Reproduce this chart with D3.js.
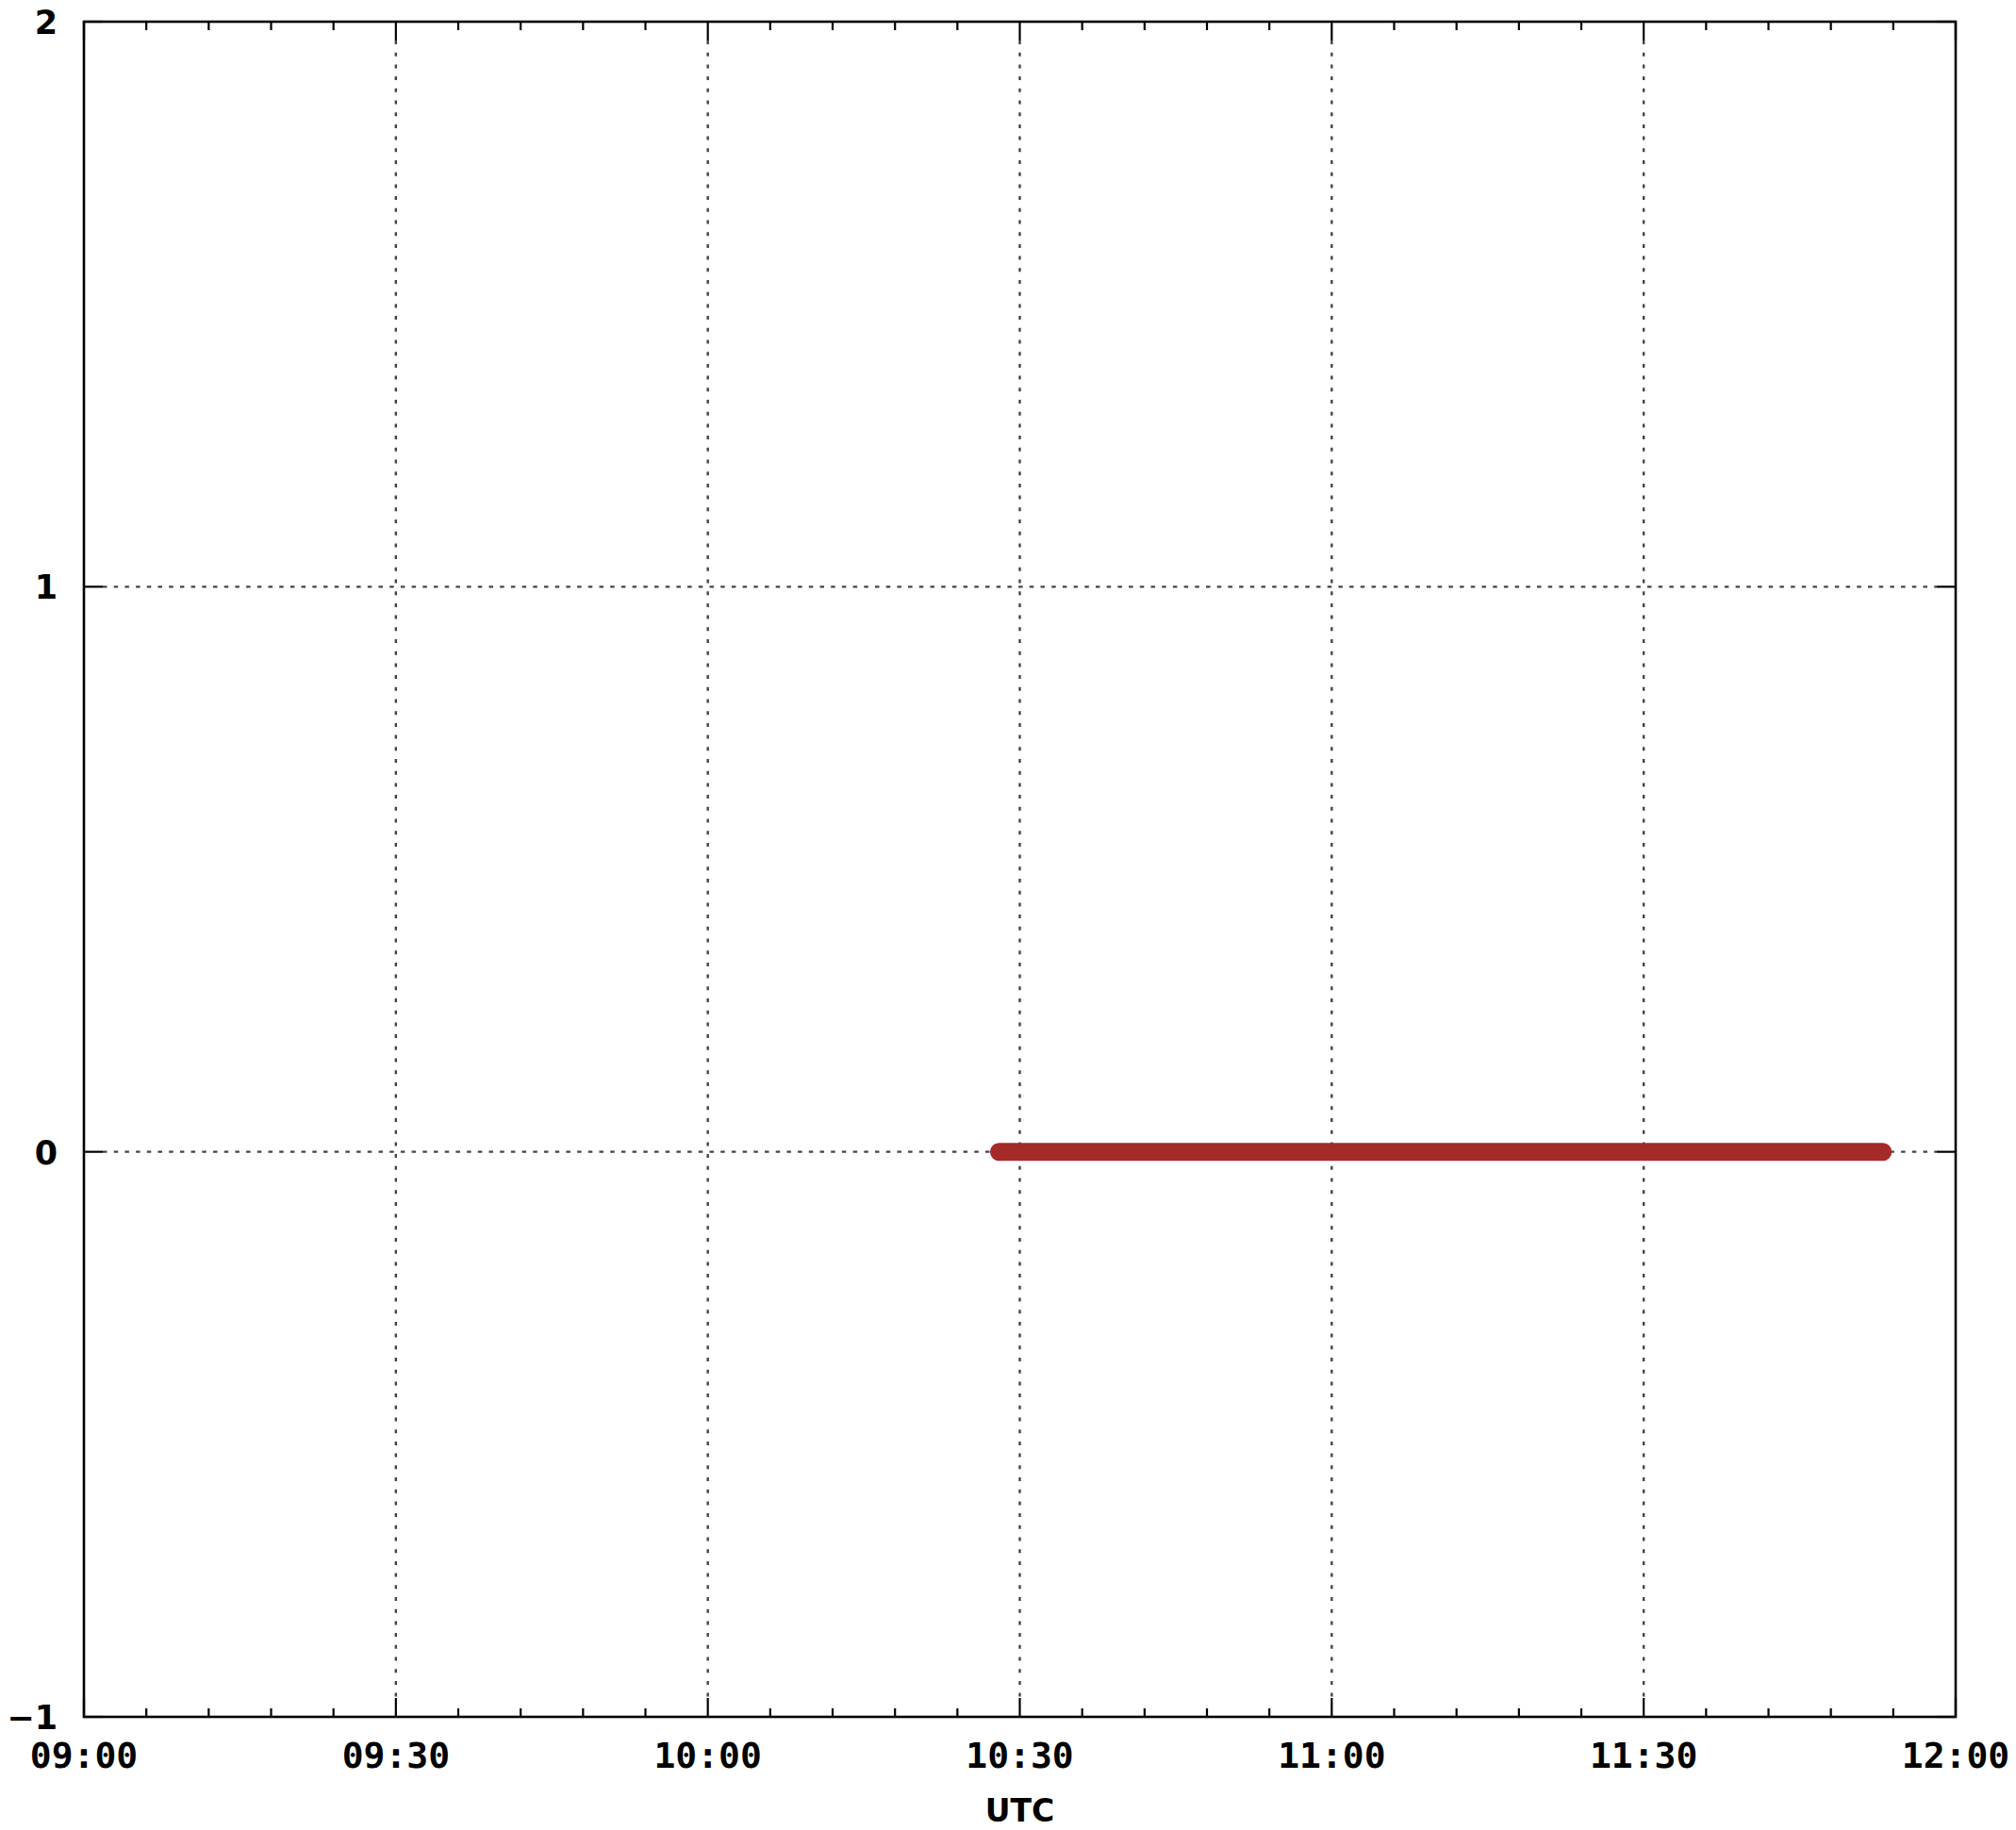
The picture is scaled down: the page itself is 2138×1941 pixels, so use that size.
<!DOCTYPE html>
<html>
<head>
<meta charset="utf-8">
<script src="https://cdn.jsdelivr.net/npm/d3@7"></script>
<style>
  html, body { margin: 0; padding: 0; background: #fff; }
  svg { display: block; }
</style>
</head>
<body>
<svg id="chart" width="2138" height="1941"></svg>
<script>
// ---- data ----
const xTickLabels = ["09:00", "09:30", "10:00", "10:30", "11:00", "11:30", "12:00"];
const yTickValues = [-1, 0, 1, 2];
const seriesTimes = ["10:28", "11:53"];
const seriesValues = [0, 0];
const xAxisTitle = "UTC";

(function () {
// ---- layout ----
const W = 2138, H = 1941;
const mLeft = 89, mRight = 2074, mTop = 23, mBottom = 1821;
const parse = d3.timeParse("%H:%M");

const svg = d3.select("#chart");
svg.append("rect").attr("width", W).attr("height", H).attr("fill", "#fff");

const x = d3.scaleTime()
  .domain([parse(xTickLabels[0]), parse(xTickLabels[xTickLabels.length - 1])])
  .range([mLeft, mRight]);
const y = d3.scaleLinear().domain([-1, 2]).range([mBottom, mTop]);

const majorTicks = xTickLabels.map(parse);
const minorTicks = d3.timeMinute.every(6).range(x.domain()[0], x.domain()[1])
  .filter(t => t.getMinutes() % 30 !== 0);

const gridColor = "#444";
// vertical grid
svg.append("g").selectAll("line")
  .data(majorTicks.slice(1, -1))
  .join("line")
  .attr("x1", d => x(d)).attr("x2", d => x(d))
  .attr("y1", mTop + 20).attr("y2", mBottom - 20)
  .attr("stroke", gridColor).attr("stroke-width", 2.4)
  .attr("stroke-dasharray", "4 8.7");
// horizontal grid
svg.append("g").selectAll("line")
  .data(yTickValues.slice(1, -1))
  .join("line")
  .attr("x1", mLeft + 20).attr("x2", mRight - 20)
  .attr("y1", d => y(d)).attr("y2", d => y(d))
  .attr("stroke", gridColor).attr("stroke-width", 2.4)
  .attr("stroke-dasharray", "4.5 7.2");

// series
const pts = seriesTimes.map((t, i) => ({ t: parse(t), v: seriesValues[i] }));
svg.append("path")
  .datum(pts)
  .attr("d", d3.line().x(d => x(d.t)).y(d => y(d.v)))
  .attr("fill", "none")
  .attr("stroke", "#a52a2a")
  .attr("stroke-width", 19)
  .attr("stroke-linecap", "round");

// ticks (inward, both sides)
const tickG = svg.append("g").attr("stroke", "#000").attr("stroke-width", 2.2);
majorTicks.forEach(t => {
  tickG.append("line").attr("x1", x(t)).attr("x2", x(t)).attr("y1", mBottom).attr("y2", mBottom - 20);
  tickG.append("line").attr("x1", x(t)).attr("x2", x(t)).attr("y1", mTop).attr("y2", mTop + 20);
});
minorTicks.forEach(t => {
  tickG.append("line").attr("x1", x(t)).attr("x2", x(t)).attr("y1", mBottom).attr("y2", mBottom - 9);
  tickG.append("line").attr("x1", x(t)).attr("x2", x(t)).attr("y1", mTop).attr("y2", mTop + 9);
});
yTickValues.forEach(v => {
  tickG.append("line").attr("x1", mLeft).attr("x2", mLeft + 20).attr("y1", y(v)).attr("y2", y(v));
  tickG.append("line").attr("x1", mRight).attr("x2", mRight - 20).attr("y1", y(v)).attr("y2", y(v));
});

// border
svg.append("rect")
  .attr("x", mLeft).attr("y", mTop)
  .attr("width", mRight - mLeft).attr("height", mBottom - mTop)
  .attr("fill", "none").attr("stroke", "#000").attr("stroke-width", 2.6);

// x tick labels
svg.append("g").selectAll("text")
  .data(majorTicks)
  .join("text")
  .attr("x", d => x(d))
  .attr("y", 1875)
  .attr("text-anchor", "middle")
  .attr("font-family", "DejaVu Sans Mono")
  .attr("font-weight", "bold")
  .attr("font-size", 38)
  .attr("fill", "#000")
  .text((d, i) => xTickLabels[i]);

// y tick labels
svg.append("g").selectAll("text")
  .data(yTickValues)
  .join("text")
  .attr("x", 61)
  .attr("y", d => y(d) + 13)
  .attr("text-anchor", "end")
  .attr("font-family", "DejaVu Sans")
  .attr("font-weight", "bold")
  .attr("font-size", 35)
  .attr("fill", "#000")
  .text(d => d < 0 ? "\u2212" + Math.abs(d) : String(d));

// x axis title
svg.append("text")
  .attr("x", (mLeft + mRight) / 2)
  .attr("y", 1932)
  .attr("text-anchor", "middle")
  .attr("font-family", "DejaVu Sans")
  .attr("font-weight", "bold")
  .attr("font-size", 33)
  .attr("fill", "#000")
  .text(xAxisTitle);
})();
</script>
</body>
</html>
